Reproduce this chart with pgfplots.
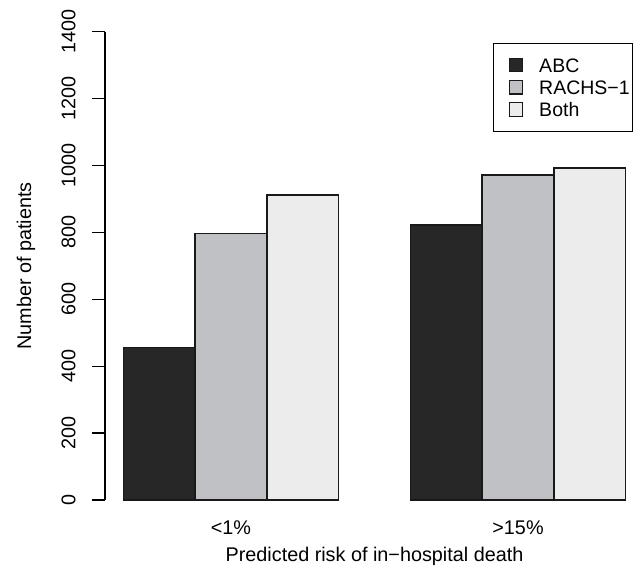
\documentclass[border=0pt]{standalone}
\usepackage{fontspec}
\setmainfont{Liberation Sans}
\usepackage{pgfplots}
\pgfplotsset{compat=1.18}
\definecolor{cA}{HTML}{272727}
\definecolor{cB}{HTML}{C0C1C4}
\definecolor{cC}{HTML}{ECECEC}
\begin{document}
\begin{tikzpicture}
\path[use as bounding box] (0,0) rectangle (423.33pt,378pt);
\begin{axis}[
  at={(70pt,44.67pt)}, anchor=south west,
  scale only axis, width=353.33pt, height=312.2pt,
  xmin=0.745, xmax=8.130, ymin=0, ymax=1400,
  axis y line*=left, axis x line*=bottom,
  x axis line style={draw=none},
  y axis line style={line width=0.8pt, -},
  ytick={0,200,...,1400},
  xtick={2.5,6.5}, xticklabels={{<1\%},{>15\%}},
  major x tick style={draw=none},
  tick align=outside,
  major tick length=8.5pt,
  major y tick style={line width=0.8pt, black},
  /pgf/number format/assume math mode=true,
  /pgf/number format/1000 sep={},
  tick label style={font=\fontsize{13.2}{15.8}\selectfont},
  yticklabel style={rotate=90, anchor=south, inner xsep=0pt, inner ysep=11pt},
  xticklabel style={anchor=base, inner sep=0pt, yshift=-14.83pt},
  every axis y label/.style={at={(axis description cs:0,0.5)}, rotate=90, anchor=base, yshift=49.33pt, font=\fontsize{13.2}{15.8}\selectfont},
  every axis x label/.style={at={(axis description cs:0.5085,0)}, anchor=base, yshift=-41.33pt, font=\fontsize{13.2}{15.8}\selectfont},
  ylabel={Number of patients},
  xlabel={Predicted risk of in−hospital death},
  legend style={at={(axis description cs:0.9968,0.9765)}, anchor=north east, draw=black, line width=0.75pt,
    font=\fontsize{13}{15.6}\selectfont, inner xsep=2pt, inner ysep=7.2pt, row sep=0pt,
    nodes={inner sep=0pt, text height=12.05pt, text depth=2.75pt}},
  legend cell align=left,
  legend image code/.code={\draw[#1, line width=0.75pt] (8.7pt,-4.45pt) rectangle (17.6pt,4.45pt); \path[draw=none,fill=none] (0pt,0pt) -- (28.67pt,0pt);},
]
\addplot[ybar, bar width=1, bar shift=0pt, fill=cA, draw=black!90, line width=0.9pt] coordinates {(1.5,455) (5.5,822)};
\addplot[ybar, bar width=1, bar shift=0pt, fill=cB, draw=black!90, line width=0.9pt] coordinates {(2.5,797) (6.5,972)};
\addplot[ybar, bar width=1, bar shift=0pt, fill=cC, draw=black!90, line width=0.9pt] coordinates {(3.5,912) (7.5,993)};
\legend{ABC, RACHS−1, Both}
\end{axis}
\end{tikzpicture}
\end{document}
